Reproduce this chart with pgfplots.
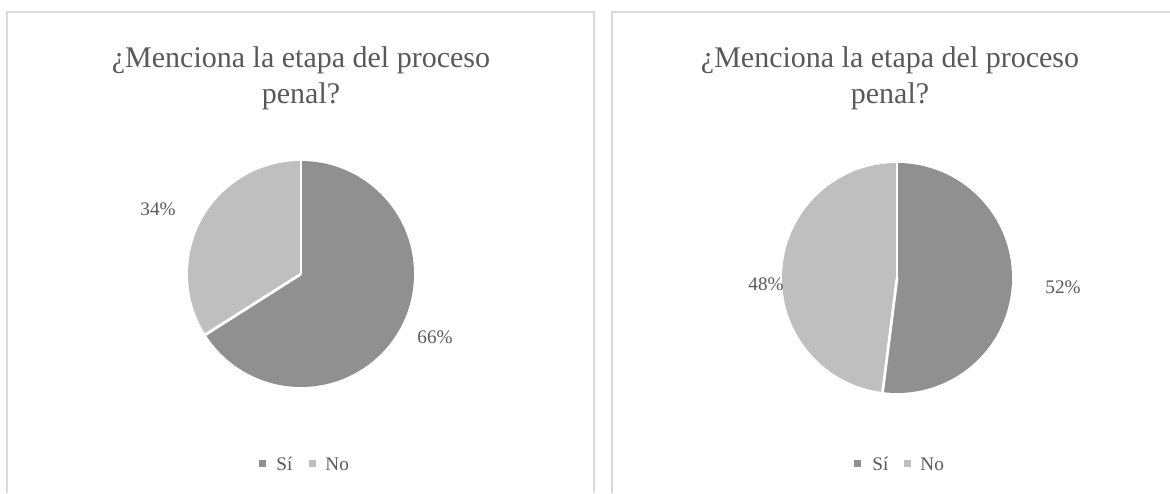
\documentclass[border=0pt]{standalone}
\usepackage{fontspec}
\setmainfont{Liberation Serif}
\usepackage{pgfplots}
\usepackage{pgfplotstable}
\pgfplotsset{compat=1.18}
\definecolor{si}{HTML}{909090}
\definecolor{no}{HTML}{BFBFBF}
\definecolor{txt}{HTML}{595959}
\definecolor{frm}{HTML}{D9D9D9}

\pgfplotstableread{
cat value
Si 66
No 34
}\leftdata
\pgfplotstableread{
cat value
Si 52
No 48
}\rightdata

\begin{document}%
\begin{tikzpicture}[font=\fontsize{9.6}{11.5}\selectfont, text=txt]
\pgfplotstablegetelem{0}{value}\of\leftdata
\pgfmathsetmacro\LA{90-3.6*\pgfplotsretval}
\pgfplotstablegetelem{0}{value}\of\rightdata
\pgfmathsetmacro\RA{90-3.6*\pgfplotsretval}
\path[use as bounding box] (0pt,0pt) rectangle (585pt,246.5pt);
% panel frames
\draw[frm, line width=0.8pt] (3.5pt,0pt) -- (3.5pt,240.5pt) -- (297pt,240.5pt) -- (297pt,0pt);
\draw[frm, line width=0.8pt] (306pt,0pt) -- (306pt,240.5pt) -- (585pt,240.5pt);

% left pie
\begin{axis}[hide axis, scale only axis, clip=false,
  xmin=-1, xmax=1, ymin=-1, ymax=1, x=56.5pt, y=56.5pt,
  at={(150.5pt,109.5pt)}, anchor=center]
\fill[si] (axis cs:0,0) -- (axis cs:0,1) arc[start angle=90, end angle=\LA, radius=1] -- cycle;
\fill[no] (axis cs:0,0) -- (axis cs:{cos(\LA)},{sin(\LA)}) arc[start angle=\LA, end angle=-270, radius=1] -- cycle;
\draw[white, line width=1.4pt] (axis cs:0,0) -- (axis cs:0,1.01);
\draw[white, line width=1.4pt] (axis cs:0,0) -- (axis cs:{1.01*cos(\LA)},{1.01*sin(\LA)});
\end{axis}

% right pie
\begin{axis}[hide axis, scale only axis, clip=false,
  xmin=-1, xmax=1, ymin=-1, ymax=1, x=57.5pt, y=57.5pt,
  at={(448.5pt,107.5pt)}, anchor=center]
\fill[si] (axis cs:0,0) -- (axis cs:0,1) arc[start angle=90, end angle=\RA, radius=1] -- cycle;
\fill[no] (axis cs:0,0) -- (axis cs:{cos(\RA)},{sin(\RA)}) arc[start angle=\RA, end angle=-270, radius=1] -- cycle;
\draw[white, line width=1.4pt] (axis cs:0,0) -- (axis cs:0,1.01);
\draw[white, line width=1.4pt] (axis cs:0,0) -- (axis cs:{1.01*cos(\RA)},{1.01*sin(\RA)});
\end{axis}

% titles
\node[anchor=base, font=\fontsize{15}{18}\selectfont] at (150.5pt,212.5pt) {¿Menciona la etapa del proceso};
\node[anchor=base, font=\fontsize{15}{18}\selectfont] at (150.5pt,194.5pt) {penal?};
\node[anchor=base, font=\fontsize{15}{18}\selectfont] at (445pt,212.5pt) {¿Menciona la etapa del proceso};
\node[anchor=base, font=\fontsize{15}{18}\selectfont] at (445pt,194.5pt) {penal?};

% data labels
\node[anchor=base west, inner sep=0pt] at (70pt,139pt) {34\%};
\node[anchor=base west, inner sep=0pt] at (208.5pt,75pt) {66\%};
\node[anchor=base west, inner sep=0pt] at (374pt,101.5pt) {48\%};
\node[anchor=base west, inner sep=0pt] at (522.5pt,100pt) {52\%};

% legends
\fill[si] (129.25pt,13.25pt) rectangle ++(3.5pt,3.5pt);
\node[anchor=base west, inner sep=0pt] at (138pt,11.5pt) {Sí};
\fill[no] (154.25pt,13.25pt) rectangle ++(3.5pt,3.5pt);
\node[anchor=base west, inner sep=0pt] at (162.5pt,11.5pt) {No};
\fill[si] (426.75pt,13.25pt) rectangle ++(3.5pt,3.5pt);
\node[anchor=base west, inner sep=0pt] at (436pt,11.5pt) {Sí};
\fill[no] (451.75pt,13.25pt) rectangle ++(3.5pt,3.5pt);
\node[anchor=base west, inner sep=0pt] at (460pt,11.5pt) {No};
\end{tikzpicture}%
\end{document}
